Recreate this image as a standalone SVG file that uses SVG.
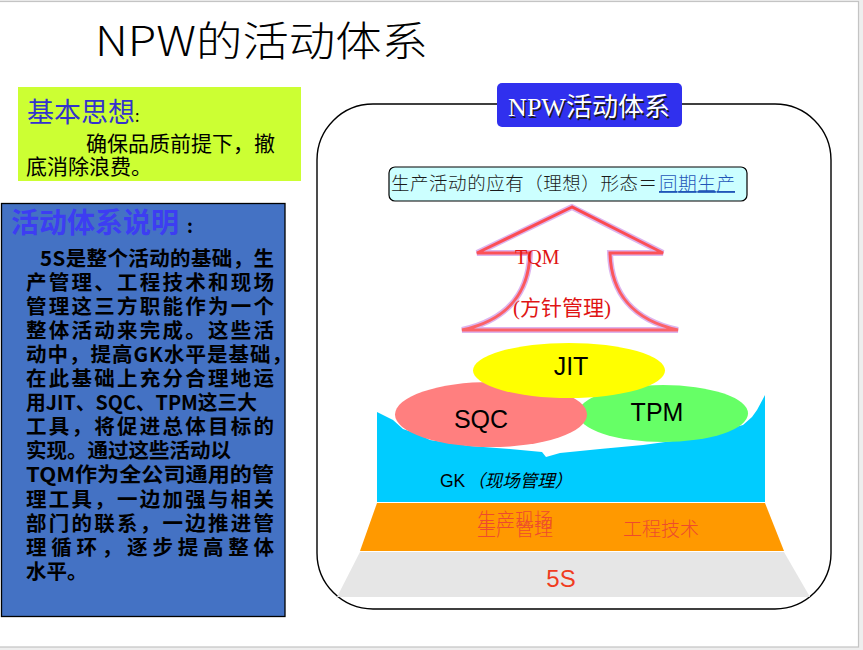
<svg xmlns="http://www.w3.org/2000/svg" width="863" height="650" viewBox="0 0 863 650">
<style>
.cjk{font-family:"Noto Sans CJK SC","Noto Sans",sans-serif}
.ser{font-family:"Liberation Serif","Noto Sans CJK SC",serif}
.body{font-family:"Noto Sans CJK SC",sans-serif;font-weight:bold;font-size:20.5px;fill:#000}
.lbl{font-family:"Liberation Sans","Noto Sans CJK SC",sans-serif;font-size:25px;fill:#000;text-anchor:middle}
.red{font-family:"Noto Sans CJK SC",sans-serif;font-size:19px;fill:#ee4a2e;font-weight:300}
</style>
<defs>
<linearGradient id="arrowG" x1="0" y1="0" x2="0" y2="1">
<stop offset="0" stop-color="#ff3b3b"/>
<stop offset="1" stop-color="#ff5a5a"/>
</linearGradient>
</defs>
<rect x="0" y="0" width="863" height="650" fill="#eeeeee"/>
<rect x="-1" y="1.5" width="859.5" height="645.5" fill="#ffffff" stroke="#c4c4c4" stroke-width="1.2"/>

<g id="title">
<text class="cjk" x="95" y="56" font-size="41" font-weight="300" fill="#000" textLength="333" lengthAdjust="spacingAndGlyphs">NPW的活动体系</text>
</g>

<g id="basic-idea">
<rect x="18" y="87" width="283" height="94" fill="#ccff33"/>
<text class="cjk" x="27" y="122" font-size="27" fill="#3333cc">基本思想<tspan font-size="16" fill="#000">:</tspan></text>
<text class="cjk" x="86" y="151" font-size="21" fill="#000">确保品质前提下，撤</text>
<text class="cjk" x="26" y="174" font-size="21" fill="#000">底消除浪费。</text>
</g>

<g id="explanation">
<rect x="1.5" y="203.5" width="283.5" height="413" fill="#4472c4" stroke="#000" stroke-width="1.3"/>
<text class="cjk" x="11" y="233" font-size="28" font-weight="bold" fill="#3d3df2">活动体系说明<tspan dx="8" font-size="18" fill="#000">:</tspan></text>
<text class="body" x="40" y="266" textLength="234" lengthAdjust="spacing">5S是整个活动的基础，生</text>
<text class="body" x="26" y="290" textLength="248" lengthAdjust="spacing">产管理、工程技术和现场</text>
<text class="body" x="26" y="314" textLength="248" lengthAdjust="spacing">管理这三方职能作为一个</text>
<text class="body" x="26" y="338" textLength="248" lengthAdjust="spacing">整体活动来完成。这些活</text>
<text class="body" x="26" y="362" textLength="266" lengthAdjust="spacing">动中，提高GK水平是基础，</text>
<text class="body" x="26" y="386" textLength="248" lengthAdjust="spacing">在此基础上充分合理地运</text>
<text class="body" x="26" y="410" textLength="231" lengthAdjust="spacingAndGlyphs">用JIT、SQC、TPM这三大</text>
<text class="body" x="26" y="434" textLength="248" lengthAdjust="spacing">工具，将促进总体目标的</text>
<text class="body" x="26" y="458">实现。通过这些活动以</text>
<text class="body" x="26" y="482" textLength="248" lengthAdjust="spacingAndGlyphs">TQM作为全公司通用的管</text>
<text class="body" x="26" y="507" textLength="248" lengthAdjust="spacing">理工具，一边加强与相关</text>
<text class="body" x="26" y="531" textLength="248" lengthAdjust="spacing">部门的联系，一边推进管</text>
<text class="body" x="26" y="555" textLength="248" lengthAdjust="spacing">理循环，逐步提高整体</text>
<text class="body" x="26" y="579">水平。</text>
</g>

<g id="frame">
<rect x="317" y="104" width="514" height="505" rx="56" ry="56" fill="#ffffff" stroke="#000" stroke-width="1.4"/>
</g>

<g id="frame-title">
<rect x="497" y="83" width="185" height="44" rx="5" fill="#3030ee"/>
<text class="ser" x="590.5" y="117.5" font-size="26" fill="#1a1a1a" text-anchor="middle">NPW活动体系</text>
<text class="ser" x="589" y="116" font-size="26" fill="#ffffff" text-anchor="middle">NPW活动体系</text>
</g>

<g id="ideal-form">
<rect x="389" y="167" width="358" height="34" rx="6" fill="#ccffff" stroke="#000" stroke-width="1.2"/>
<text class="cjk" x="391" y="190" font-size="18.5" fill="#1a1a1a" font-weight="300" textLength="266" lengthAdjust="spacing">生产活动的应有（理想）形态＝</text>
<text class="cjk" x="659" y="190" font-size="18.5" fill="#1f56b8" font-weight="300" text-decoration="underline" textLength="76" lengthAdjust="spacing">同期生产</text>
</g>

<g id="tqm-arrow">
<path d="M572,207 L477,253 L530,253 C529,292 508,320 462,330 L678,330 C632,320 611,292 610,253 L663,253 Z" fill="none" stroke="#dcb4ee" stroke-width="6" stroke-linejoin="miter"/>
<path d="M572,207 L477,253 L530,253 C529,292 508,320 462,330 L678,330 C632,320 611,292 610,253 L663,253 Z" fill="none" stroke="url(#arrowG)" stroke-width="3" stroke-linejoin="miter" opacity="0.9"/>
<text class="ser" x="515" y="264" font-size="20" fill="#e01414">TQM</text>
<text x="513" y="315" font-size="21" fill="#e01414" font-family="Liberation Serif,'Noto Sans CJK SC',serif">(<tspan font-family="Noto Sans CJK SC,sans-serif">方针管理</tspan>)</text>
</g>

<g id="gk">
<path d="M377,412 L393,420 L403,429 L418,434 L430,440 L470,446 L510,449 L542,452 L546,457 L560,453 L600,449 L643,445 L680,440 L700,437 L720,431 L743,425 L752,417 L757,410 L765,395 L765,502 L377,502 Z" fill="#00ccff"/>
<text x="440" y="487" font-size="17.5" fill="#000" font-family="Liberation Sans,'Noto Sans CJK SC',sans-serif">GK<tspan font-family="Noto Sans CJK SC,sans-serif" font-style="italic" dx="2">（现场管理）</tspan></text>
</g>

<g id="tpm">
<ellipse cx="663" cy="413.5" rx="85" ry="28.5" fill="#66ff66"/>
<text class="lbl" x="657" y="421">TPM</text>
</g>

<g id="sqc">
<ellipse cx="491" cy="414.5" rx="96" ry="32.5" fill="#ff7f7f"/>
<text class="lbl" x="481" y="428">SQC</text>
</g>

<g id="jit">
<ellipse cx="569" cy="370.5" rx="96" ry="27.5" fill="#ffff00"/>
<text class="lbl" x="571" y="375">JIT</text>
</g>

<g id="functions">
<polygon points="377,503 765,503 784,551 360,551" fill="#ff9900"/>
<text class="red" x="477" y="527">生产现场</text>
<text class="red" x="477" y="536">生产管理</text>
<text class="red" x="623" y="536">工程技术</text>
</g>

<g id="five-s">
<polygon points="360,552 784,552 810,597 337,597" fill="#e6e6e6"/>
<text x="561" y="587" font-size="24" fill="#f03c1e" text-anchor="middle" font-family="Liberation Sans,'Noto Sans CJK SC',sans-serif">5S</text>
</g>

<g id="connectors"></g>
</svg>
